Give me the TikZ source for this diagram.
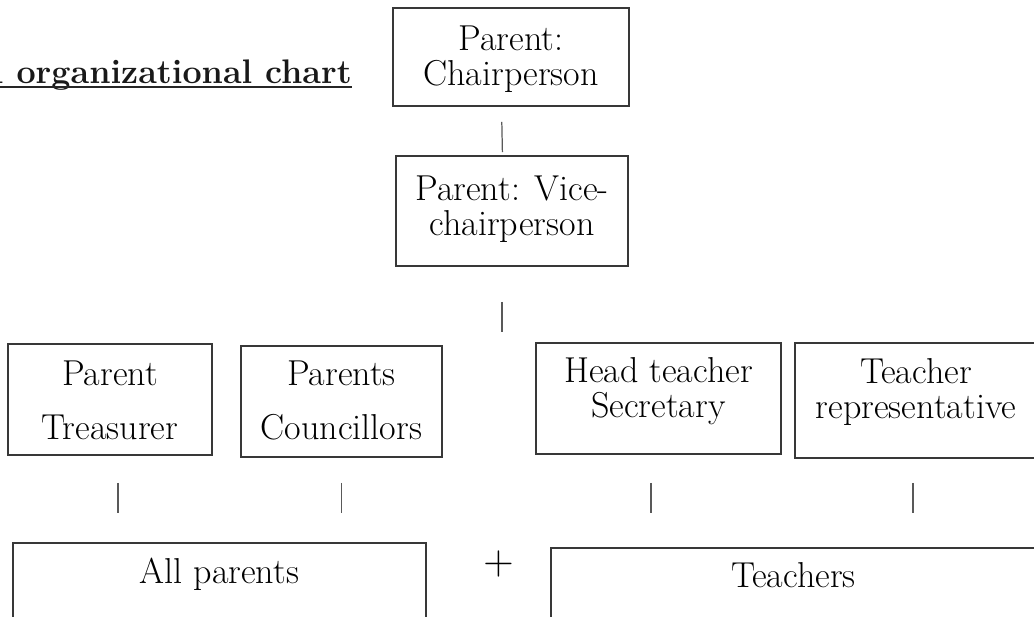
\documentclass[tikz,border=0pt]{standalone}
\usepackage{tikz}
\usetikzlibrary{positioning}

\begin{document}
\begin{tikzpicture}[x=0.02cm, y=-0.02cm]
  \tikzset{PostStyle/.style = {shape          = rectangle,
                               draw           = black!78,
                               line width     = 1pt,
                               inner sep      = 0pt,
                               outer sep      = 0pt,
                               anchor         = north west},
           post/.style 2 args = {PostStyle, minimum width=#1, minimum height=#2},
           txt/.style   = {align          = center,
                           inner sep      = 0pt,
                           text           = black,
                           font           = \fontsize{20.5}{20}\selectfont},
           link/.style  = {draw=black!65, line width=0.7pt}}
  \useasboundingbox (0,0) rectangle (1034,616);
  \clip (0,0) rectangle (1034,616);
  %%% TITRE %%%
  \node[anchor=base east, inner sep=0pt, text=black!90,
        font=\fontsize{19.4}{22}\selectfont\bfseries] (title) at (352,83) {A organizational chart};
  \draw[black!85, line width=1.1pt] ([yshift=-0.08cm]title.base west) to ([yshift=-0.08cm]title.base east);
  %%% BUREAU %%%
  \node[post={4.72cm}{1.96cm}] (chair) at (393,8) {};
  \node[txt, below=0.35cm of chair.north] (chairtxt) {Parent:\\Chairperson};
  \node[post={4.64cm}{2.2cm}] (vice) at (396,156) {};
  \node[txt, below=0.39cm of vice.north] (vicetxt) {Parent: Vice-\\chairperson};
  \draw[link, shorten <=0.32cm, shorten >=0.08cm] ([xshift=-0.19cm]chair.south) to ([xshift=-0.19cm]vice.north);
  %%% MEMBRES %%%
  \node[post={4.08cm}{2.22cm}] (treas) at (8,344) {};
  \node[txt, below=0.33cm of treas.north] (treastxt) {Parent\\[11pt]Treasurer};
  \node[post={4.02cm}{2.22cm}] (counc) at (241,346) {};
  \node[txt, below=0.29cm of counc.north] (counctxt) {Parents\\[11pt]Councillors};
  \node[post={4.9cm}{2.22cm}] (head) at (536,343) {};
  \node[txt, below=0.29cm of head.north] (headtxt) {Head teacher\\Secretary};
  \node[post={4.84cm}{2.3cm}] (rep) at (795,343) {};
  \node[txt, below=0.31cm of rep.north] (reptxt) {Teacher\\representative};
  \coordinate (row) at (vice.south |- head.north);
  \draw[link, shorten <=0.72cm, shorten >=0.22cm] ([xshift=-0.2cm]vice.south) to ([xshift=-0.2cm]row);
  %%% ASSEMBLEE %%%
  \node[post={8.26cm}{2cm}] (allp) at (13,543) {};
  \node[txt, below=0.29cm of allp.north] (allptxt) {All parents};
  \node[post={9.7cm}{2cm}] (teach) at (551,548) {};
  \node[txt, below=0.29cm of teach.north] (teachtxt) {Teachers};
  \node[inner sep=0pt, text=black, font=\sffamily\fontsize{24}{26}\selectfont] (plus) at (499,564) {+};
  \draw[link, shorten <=0.56cm, shorten >=0.6cm] ([xshift=0.16cm]treas.south) to ([xshift=0.16cm]treas.south |- allp.north);
  \draw[link, shorten <=0.52cm, shorten >=0.6cm] (counc.south) to (counc.south |- allp.north);
  \draw[link, shorten <=0.58cm, shorten >=0.7cm] ([xshift=-0.15cm]head.south) to ([xshift=-0.15cm]head.south |- teach.north);
  \draw[link, shorten <=0.5cm, shorten >=0.7cm] ([xshift=-0.06cm]rep.south) to ([xshift=-0.06cm]rep.south |- teach.north);
\end{tikzpicture}
\end{document}
